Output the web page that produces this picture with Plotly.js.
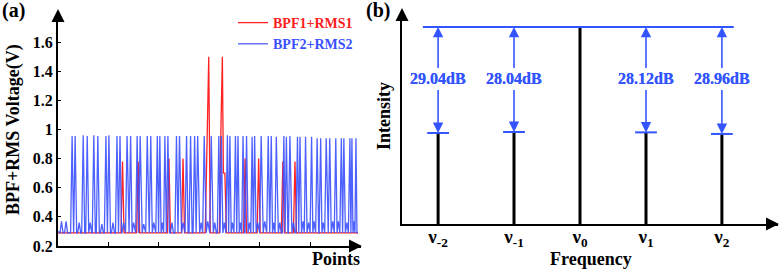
<!DOCTYPE html>
<html>
<head>
<meta charset="utf-8">
<script src="https://cdn.plot.ly/plotly-3.0.1.min.js"></script>
<style>html,body{margin:0;padding:0;background:#fff;}#chart{width:780px;height:271px;}</style>
</head>
<body>
<div id="chart"></div>
<script>
// ---------- Panel (a) data ----------
const baseLevel = 0.29;
// blue (BPF2+RMS2) spike positions (points) and heights (V)
const blueSpikeX = [28,34,50,58,71,79,95,101,117,123,137,144,157,163,177,184,197,202,212,218,
  235,241,255,263,271,277,290,304,319,324,336,341,352,357,367,374,385,390,403,417,
  423,433,448,453,460,475,480,491,503,514,521,532,539,551,562,567,579,583,591];
const blueSpikeV = [0.955,0.955,0.96,0.955,0.96,0.955,0.955,0.96,0.955,0.955,0.955,0.955,0.955,0.955,0.955,0.955,0.955,0.955,0.955,0.955,
  0.955,0.955,0.955,0.955,0.955,0.955,0.955,0.955,0.955,0.955,0.96,0.955,0.955,0.955,0.955,0.955,0.95,0.955,0.955,0.955,
  0.955,0.95,0.955,0.95,0.955,0.95,0.95,0.95,0.95,0.94,0.94,0.94,0.94,0.94,0.94,0.94,0.94,0.94,0.94];
// small ripples of the blue trace between spikes
const blueRippleX = [7,16,42,64,87,109,130,150,170,190,207,226,248,284,297,311,330,346,362,380,396,410,428,440,467,486,497,508,526,545,556,573,587];
const blueRippleV = [0.37,0.37,0.36,0.36,0.35,0.36,0.36,0.36,0.35,0.36,0.36,0.36,0.36,0.36,0.37,0.36,0.36,0.36,0.36,0.36,0.36,0.37,0.36,0.36,0.36,0.37,0.36,0.37,0.36,0.37,0.37,0.36,0.37];
const blueEndX = 595;
// red (BPF1+RMS1) trace vertices
const redX = [0, 125,128,131, 156,159,162, 217,220,223, 245,248,251, 292,296,299,302,
  320,323,326,328,331,334, 368,371,374, 395,398,401, 443,446,449, 467,470,473, 595];
const redY = [0.29, 0.29,0.78,0.29, 0.29,0.78,0.29, 0.29,0.80,0.29, 0.29,0.80,0.29, 0.29,0.97,1.50,0.29,
  0.29,0.97,1.50,0.70,0.70,0.29, 0.29,0.80,0.29, 0.29,0.80,0.29, 0.29,0.78,0.29, 0.29,0.78,0.29, 0.29];
const yTickVals = [0.2,0.4,0.6,0.8,1,1.2,1.4,1.6];
const yTickText = ['0.2','0.4','0.6','0.8','1','1.2','1.4','1.6'];
const xTickVals = [100,200,300,400,500];

// ---------- Panel (b) data ----------
const freqPos = [-2.15, -1, 0, 1, 2.15];
const freqLabels = ['ν<sub>-2</sub>','ν<sub>-1</sub>','ν<sub>0</sub>','ν<sub>1</sub>','ν<sub>2</sub>'];
const intensity = [0.462, 0.467, 1, 0.465, 0.457];
const dBLabels = ['29.04dB','28.04dB', null, '28.12dB','28.96dB'];
const refLevel = 1;
const refLineX = [-2.38, 2.33];
const labelLevel = 0.736;
const capHalf = 0.165;

// ---------- build blue vertices ----------
const events = [];
blueSpikeX.forEach((x,i)=>events.push([x, blueSpikeV[i]]));
blueRippleX.forEach((x,i)=>events.push([x, blueRippleV[i]]));
events.sort((a,b)=>a[0]-b[0]);
const bx = [0], by = [0.30];
const hw = 3;
for (let i=0;i<events.length;i++){
  const [x,v] = events[i];
  const prev = i>0 ? events[i-1][0] : 0;
  const next = i<events.length-1 ? events[i+1][0] : blueEndX;
  const l = Math.max(x - hw, (prev + x)/2);
  const r = Math.min(x + hw, (x + next)/2);
  if (bx[bx.length-1] < l) { bx.push(l); by.push(baseLevel); }
  bx.push(x); by.push(v);
  bx.push(r); by.push(baseLevel);
}
bx.push(blueEndX); by.push(baseLevel);

// ---------- build panel b traces ----------
const stemX = [], stemY = [];
freqPos.forEach((p,i)=>{ stemX.push(p,p,null); stemY.push(0,intensity[i],null); });
const capX = [], capY = [];
freqPos.forEach((p,i)=>{ if (dBLabels[i]) { capX.push(p-capHalf,p+capHalf,null); capY.push(intensity[i],intensity[i],null); } });

const serif = 'Liberation Serif, Times New Roman, serif';
const BLUE = '#3a50ff';
const RED = '#ff2222';
const LBLUE = '#3355ff';

const traces = [
  {x: redX, y: redY, type:'scatter', mode:'lines', line:{color:RED, width:1.3},
   name:'<b><span style="color:#ff2020">BPF1+RMS1</span></b>', xaxis:'x', yaxis:'y'},
  {x: bx, y: by, type:'scatter', mode:'lines', line:{color:BLUE, width:1.3},
   name:'<b><span style="color:#3a50ff">BPF2+RMS2</span></b>', xaxis:'x', yaxis:'y', opacity:0.9},
  {x: stemX, y: stemY, type:'scatter', mode:'lines', line:{color:'#000', width:3},
   xaxis:'x2', yaxis:'y2', showlegend:false},
  {x: refLineX, y: [refLevel, refLevel], type:'scatter', mode:'lines', line:{color:LBLUE, width:2},
   xaxis:'x2', yaxis:'y2', showlegend:false},
  {x: capX, y: capY, type:'scatter', mode:'lines', line:{color:LBLUE, width:2},
   xaxis:'x2', yaxis:'y2', showlegend:false}
];

const W = 780, H = 271;
const px = v => v / W, py = v => (H - v) / H;

const annotations = [];
function axisArrow(tx, ty, ax, ay){
  annotations.push({xref:'paper', yref:'paper', x:px(tx), y:py(ty), ax:ax, ay:ay, text:'',
    showarrow:true, arrowhead:2, arrowsize:1.3, arrowwidth:2, arrowcolor:'#000', standoff:0});
}
axisArrow(58, 9, 0, 14);
axisArrow(362, 246, -14, 0);
axisArrow(402, 8, 0, 14);
axisArrow(779, 224, -14, 0);

function label(text, x, y, size, opts){
  annotations.push(Object.assign({xref:'paper', yref:'paper', x:px(x), y:py(y), text:text, showarrow:false,
    xanchor:'center', yanchor:'middle', font:{family:serif, size:size, color:'#000', weight:'bold'}}, opts||{}));
}
label('<b>(a)</b>', 14, 10, 20);
label('<b>(b)</b>', 378, 10, 20);
label('<b>BPF+RMS Voltage(V)</b>', 13, 130, 18, {textangle:-90});
label('<b>Points</b>', 336, 259, 18);
label('<b>Intensity</b>', 384, 116, 18, {textangle:-90});
label('<b>Frequency</b>', 591, 259, 18);

freqPos.forEach((p,i)=>{
  if (!dBLabels[i]) return;
  [refLevel, intensity[i]].forEach(target=>{
    annotations.push({xref:'x2', yref:'y2', axref:'x2', ayref:'y2', x:p, y:target, ax:p, ay:labelLevel,
      text:'<b>'+dBLabels[i]+'</b>', showarrow:true, arrowhead:2, arrowsize:1.3, arrowwidth:1.6,
      arrowcolor:LBLUE, standoff:0, borderpad:2,
      font:{family:serif, size:16, color:LBLUE}});
  });
});

const layout = {
  width: W, height: H,
  margin:{l:0, r:0, t:0, b:0},
  paper_bgcolor:'#fff', plot_bgcolor:'rgba(0,0,0,0)',
  showlegend:true,
  legend:{x:px(233), y:py(7), xanchor:'left', yanchor:'top', bgcolor:'rgba(0,0,0,0)',
    font:{family:serif, size:14}, tracegroupgap:0},
  xaxis:{domain:[px(58), px(361)], range:[0, 601], showline:true, linecolor:'#000', linewidth:2,
    showgrid:false, zeroline:false, tickvals:xTickVals, ticktext:['','','','',''], ticks:'inside',
    ticklen:4, tickwidth:1, tickcolor:'#000', anchor:'y'},
  yaxis:{domain:[py(246), py(13)], range:[0.2, 1.8], showline:true, linecolor:'#000', linewidth:2,
    showgrid:false, zeroline:false, tickvals:yTickVals, ticktext:yTickText, ticks:'inside', ticklen:3,
    tickcolor:'#000', tickfont:{family:serif, size:16, color:'#000', weight:'bold'}, anchor:'x'},
  xaxis2:{domain:[px(402), px(778)], range:[-2.697, 3.0], showline:true, linecolor:'#000', linewidth:2,
    showgrid:false, zeroline:false, tickvals:freqPos, ticktext:freqLabels, ticks:'', ticklabelstandoff:-6,
    tickfont:{family:serif, size:19, color:'#000', weight:'bold'}, anchor:'y2'},
  yaxis2:{domain:[py(224), py(12)], range:[0, 1.076], showline:true, linecolor:'#000', linewidth:2,
    showgrid:false, zeroline:false, showticklabels:false, ticks:'', anchor:'x2'},
  annotations: annotations
};

Plotly.newPlot('chart', traces, layout, {displayModeBar:false, staticPlot:true});
</script>
</body>
</html>
